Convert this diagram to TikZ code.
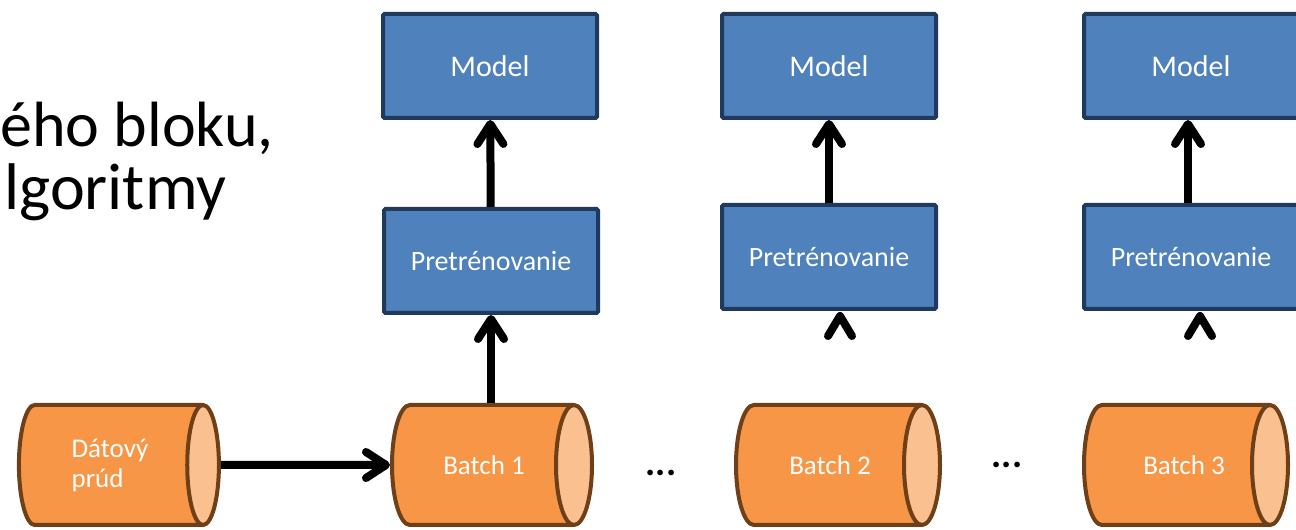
\documentclass[tikz,border=0pt]{standalone}
\usepackage{fontspec}
\setmainfont{Carlito}
\usetikzlibrary{shapes.geometric,arrows.meta}

\definecolor{boxblue}{HTML}{4F81BD}
\definecolor{boxline}{HTML}{1F3A5C}
\definecolor{cylorange}{HTML}{F79646}
\definecolor{cylcap}{HTML}{FAC090}
\definecolor{cylline}{HTML}{6F4017}

\tikzset{
    stage/.style={draw=boxline, fill=boxblue, line width=4pt, rounded corners=1.5pt,
        minimum width=214pt, minimum height=104pt, inner sep=0pt,
        text=white, font=\fontsize{28}{30}\selectfont},
    batch/.style={cylinder, draw=cylline, line width=4pt, cylinder uses custom fill,
        cylinder body fill=cylorange, cylinder end fill=cylcap, aspect=1.9,
        minimum width=120pt, minimum height=204pt, inner sep=0pt,
        text=white, font=\fontsize{27}{30}\selectfont},
    flow/.style={line width=8pt, -{Straight Barb[length=20pt,width=26pt,round]}},
    chevron/.style={line width=8pt, line cap=round, line join=round},
    slide/.style={anchor=base west, inner sep=0pt, font=\fontsize{64}{64}\selectfont}
}

\begin{document}
\begin{tikzpicture}[x=1pt,y=1pt]
    \useasboundingbox (0,0) rectangle (1296,530);

    % Slide text behind the diagram
    \node[slide] (line1) at (0,383) {ého bloku,};
    \node[slide, font=\fontsize{66}{66}\selectfont] (line2) at (4,320) {lgoritmy};

    % Stream and batches
    \node[batch, aspect=0.6, minimum height=200pt, align=left] (stream) at (110,65) {Dátový\\prúd};
    \node[batch, minimum height=200pt] (batch1) at (482,65) {\hspace*{4pt}Batch 1};
    \node[batch] (batch2) at (828,65) {\hspace*{4pt}Batch 2};
    \node[batch] (batch3) at (1176,65) {\hspace*{16pt}Batch 3};

    \node[font=\fontsize{38}{38}\selectfont\bfseries] (dots1) at (661,57) {...};
    \node[font=\fontsize{38}{38}\selectfont\bfseries] (dots2) at (1007,65) {...};

    % Retraining and models
    \node[stage] (retrain1) at (491,269) {Pretrénovanie};
    \node[stage] (retrain2) at (829,273) {Pretrénovanie};
    \node[stage] (retrain3) at (1191,273) {Pretrénovanie};

    \node[stage, font=\fontsize{30}{32}\selectfont] (model1) at (490,464) {Model};
    \node[stage, font=\fontsize{30}{32}\selectfont] (model2) at (829,464) {Model};
    \node[stage, font=\fontsize{30}{32}\selectfont] (model3) at (1191,464) {Model};

    % Arrows
    \draw[flow] (stream.east) -- (batch1.west);
    \draw[flow] (batch1.north -| retrain1.south) -- (retrain1.south);
    \draw[flow] (retrain1) -- (model1);
    \draw[flow] (retrain2) -- (model2);
    \draw[flow] ([xshift=-3pt]retrain3.north) -- ([xshift=-3pt]model3.south);

    % Loose arrow heads
    \coordinate (tip2) at ([xshift=11pt,yshift=-5pt]retrain2.south);
    \coordinate (tip3) at ([xshift=9pt,yshift=-5pt]retrain3.south);
    \draw[chevron] ([shift={(-12pt,-20pt)}]tip2) -- (tip2) -- ++(12pt,-20pt);
    \draw[chevron] ([shift={(-12pt,-20pt)}]tip3) -- (tip3) -- ++(12pt,-20pt);
\end{tikzpicture}
\end{document}
